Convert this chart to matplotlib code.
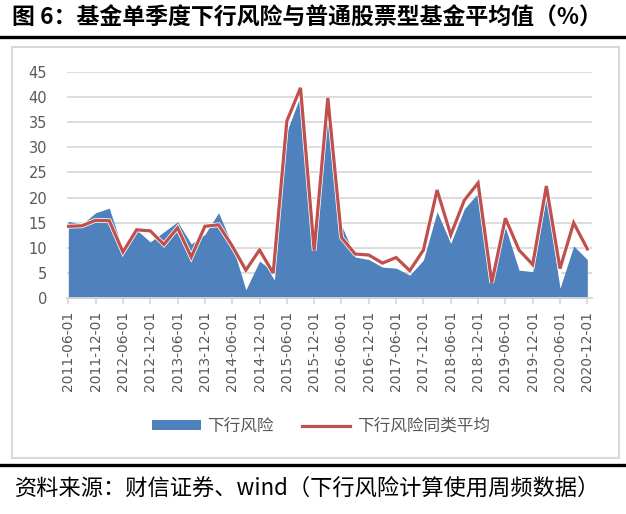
import matplotlib
matplotlib.use("Agg")
import matplotlib.pyplot as plt
import matplotlib.patheffects as pe
from matplotlib.patches import Rectangle, Patch
from matplotlib.lines import Line2D

plt.rcParams["font.family"] = ["DejaVu Sans", "Noto Sans CJK SC"]

# 季度数据 2011-06 ~ 2020-12
downside = [15.3, 14.7, 17.0, 17.9, 9.5, 13.6, 11.2, 13.2, 15.2, 10.8,
            12.7, 17.0, 10.6, 1.7, 7.4, 5.3, 33.1, 40.3, 9.8, 39.0,
            14.5, 8.2, 7.7, 6.2, 6.0, 4.6, 7.6, 17.2, 10.9, 17.8,
            20.9, 5.6, 14.1, 5.6, 5.3, 20.4, 2.0, 10.4, 7.7]
peer_avg = [14.3, 14.4, 15.5, 15.4, 9.2, 13.6, 13.4, 10.7, 14.0, 8.2,
            14.3, 14.6, 10.4, 5.6, 9.6, 5.0, 35.2, 41.8, 9.5, 39.8,
            12.1, 8.8, 8.6, 7.0, 8.1, 5.5, 9.6, 21.5, 12.6, 19.5,
            22.9, 3.1, 15.9, 9.6, 6.7, 22.3, 5.9, 15.0, 9.8]
tick_labels = ["2011-06-01", "2011-12-01", "2012-06-01", "2012-12-01",
               "2013-06-01", "2013-12-01", "2014-06-01", "2014-12-01",
               "2015-06-01", "2015-12-01", "2016-06-01", "2016-12-01",
               "2017-06-01", "2017-12-01", "2018-06-01", "2018-12-01",
               "2019-06-01", "2019-12-01", "2020-06-01", "2020-12-01"]
series_names = ["下行风险", "下行风险同类平均"]

blue = "#4F81BD"
red = "#C0504D"
grid_gray = "#D9D9D9"
text_gray = "#595959"

fig = plt.figure(figsize=(6.26, 5.14), dpi=100)
ax = fig.add_axes([0.1065, 0.4196, 0.8387, 0.4409])

x = list(range(len(downside)))
ax.fill_between(x, downside, 0, color=blue, linewidth=0)
ax.plot(x, peer_avg, color=red, linewidth=2.3, solid_joinstyle="miter",
        path_effects=[pe.Stroke(linewidth=3.4, foreground="white"), pe.Normal()])

ax.set_xlim(-0.12, 38.32)
ax.set_ylim(0, 45)
ax.set_yticks(range(0, 50, 5))
ax.set_xticks(x[::2])
ax.set_xticklabels(tick_labels, rotation=90)
ax.grid(axis="y", color=grid_gray, linewidth=1.3)
ax.set_axisbelow(True)
for s in ["top", "right", "left"]:
    ax.spines[s].set_visible(False)
ax.spines["bottom"].set_color(grid_gray)
ax.spines["bottom"].set_linewidth(1.3)
ax.tick_params(axis="y", length=0, pad=14, labelsize=10.5, labelcolor=text_gray)
ax.tick_params(axis="x", length=4, width=1.3, color=grid_gray, pad=5,
               labelsize=10, labelcolor=text_gray)

handles = [Patch(facecolor=blue, edgecolor="none"),
           Line2D([], [], color=red, linewidth=2.3)]
leg = fig.legend(handles, series_names, loc="center", bbox_to_anchor=(0.513, 0.171),
                 ncol=2, frameon=False, fontsize=12, handlelength=2.9, handleheight=0.5,
                 handletextpad=0.4, columnspacing=1.7)
for t in leg.get_texts():
    t.set_color(text_gray)

# 外框与上下黑线
fig.patches.append(Rectangle((12 / 626, 1 - 458 / 514), 607 / 626, 411 / 514,
                             transform=fig.transFigure, fill=False,
                             edgecolor=grid_gray, linewidth=1.5))
fig.add_artist(Line2D([0, 1], [1 - 37 / 514] * 2, color="black", linewidth=2.4,
                      transform=fig.transFigure))
fig.add_artist(Line2D([0, 1], [1 - 465 / 514] * 2, color="black", linewidth=2.4,
                      transform=fig.transFigure))

fig.text(12 / 626, 1 - 18 / 514, "图 6：基金单季度下行风险与普通股票型基金平均值（%）",
         family=["Noto Sans CJK SC"], fontsize=16.5, fontweight="bold",
         ha="left", va="center")
fig.text(15 / 626, 1 - 488 / 514, "资料来源：财信证券、wind（下行风险计算使用周频数据）",
         family=["Noto Sans CJK SC", "DejaVu Sans"], fontsize=16, style="italic",
         ha="left", va="center")

fig.savefig("out.png", dpi=100)
